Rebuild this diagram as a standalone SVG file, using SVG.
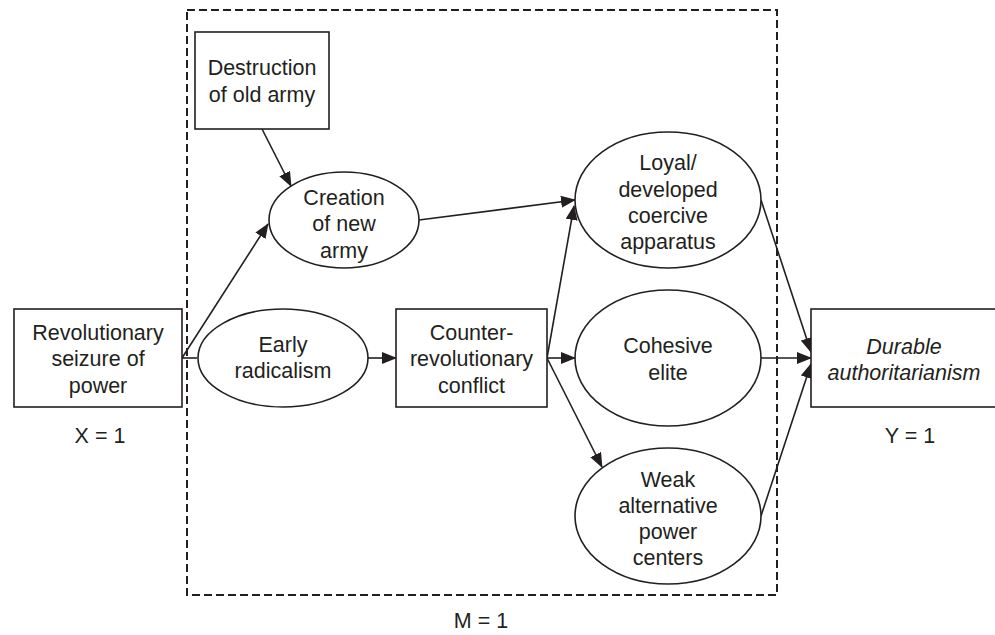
<svg xmlns="http://www.w3.org/2000/svg" width="995" height="635" viewBox="0 0 995 635">
<defs>
<marker id="ah" markerUnits="userSpaceOnUse" markerWidth="15" markerHeight="12" viewBox="0 0 15 12" refX="14" refY="6" orient="auto">
<path d="M0,0 L15,6 L0,12 Z" fill="#231f20"/>
</marker>
<style>
.n{fill:#fff;stroke:#231f20;stroke-width:1.6}
.t{font-family:"Liberation Sans",Arial,sans-serif;font-size:21.5px;fill:#231f20;text-anchor:middle}
.i{font-style:italic}
.c{stroke:#231f20;stroke-width:1.6;fill:none}
.a{marker-end:url(#ah)}
.d{fill:none;stroke:#231f20;stroke-width:2;stroke-dasharray:8,4}
</style>
</defs>
<rect id="mbox" class="d" x="187" y="10" width="590" height="585"/>
<g id="connectors">
<line class="c" x1="182" y1="358" x2="197" y2="358"/>
<line class="c a" x1="182" y1="358" x2="268" y2="224"/>
<line class="c a" x1="262" y1="129" x2="291" y2="186"/>
<line class="c a" x1="368" y1="358" x2="396" y2="358"/>
<line class="c a" x1="419" y1="220" x2="575" y2="200"/>
<line class="c a" x1="547" y1="358" x2="574" y2="206"/>
<line class="c a" x1="547" y1="358" x2="575" y2="358"/>
<line class="c a" x1="547" y1="358" x2="602" y2="467"/>
<line class="c a" x1="761" y1="200" x2="811" y2="352"/>
<line class="c a" x1="761" y1="358" x2="811" y2="358"/>
<line class="c a" x1="761" y1="516" x2="811" y2="364"/>
</g>
<g id="revolutionary">
<rect class="n" x="14" y="309" width="168" height="98"/>
<text class="t" x="98" y="340">Revolutionary</text>
<text class="t" x="98" y="366">seizure of</text>
<text class="t" x="98" y="393">power</text>
</g>
<g id="destruction">
<rect class="n" x="195" y="32" width="134" height="97"/>
<text class="t" x="262" y="75">Destruction</text>
<text class="t" x="262" y="102">of old army</text>
</g>
<g id="creation">
<ellipse class="n" cx="344" cy="220" rx="75" ry="48"/>
<text class="t" x="344" y="205">Creation</text>
<text class="t" x="344" y="231">of new</text>
<text class="t" x="344" y="258">army</text>
</g>
<g id="early">
<ellipse class="n" cx="283" cy="358" rx="85" ry="49"/>
<text class="t" x="283" y="352">Early</text>
<text class="t" x="283" y="378">radicalism</text>
</g>
<g id="counter">
<rect class="n" x="396" y="309" width="151" height="98"/>
<text class="t" x="471.5" y="340">Counter-</text>
<text class="t" x="471.5" y="366">revolutionary</text>
<text class="t" x="471.5" y="393">conflict</text>
</g>
<g id="loyal">
<ellipse class="n" cx="668" cy="200" rx="93" ry="68"/>
<text class="t" x="668" y="170">Loyal/</text>
<text class="t" x="668" y="197">developed</text>
<text class="t" x="668" y="223">coercive</text>
<text class="t" x="668" y="249">apparatus</text>
</g>
<g id="cohesive">
<ellipse class="n" cx="668" cy="358" rx="93" ry="68"/>
<text class="t" x="668" y="353">Cohesive</text>
<text class="t" x="668" y="380">elite</text>
</g>
<g id="weak">
<ellipse class="n" cx="668" cy="516" rx="93" ry="68"/>
<text class="t" x="668" y="487">Weak</text>
<text class="t" x="668" y="513">alternative</text>
<text class="t" x="668" y="539">power</text>
<text class="t" x="668" y="565">centers</text>
</g>
<g id="durable">
<rect class="n" x="811" y="309" width="195" height="98"/>
<text class="t i" x="904" y="354">Durable</text>
<text class="t i" x="904" y="380">authoritarianism</text>
</g>
<g id="labels">
<text class="t" x="100" y="443">X = 1</text>
<text class="t" x="910" y="443">Y = 1</text>
<text class="t" x="481" y="628">M = 1</text>
</g>
</svg>
